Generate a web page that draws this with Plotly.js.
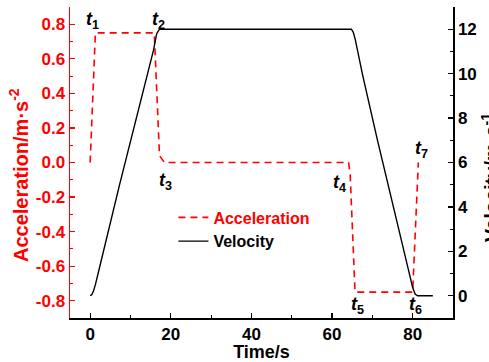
<!DOCTYPE html>
<html>
<head>
<meta charset="utf-8">
<script src="https://cdn.plot.ly/plotly-3.0.1.min.js"></script>
<style>html,body{margin:0;padding:0;background:#fff;}#chart{width:489px;height:362px;}</style>
</head>
<body>
<div id="chart"></div>
<script>
// Acceleration (m/s^2) vs time (s)
const accTime = [0, 1.3, 15.9, 17.2, 18.4, 64.1, 64.5, 65.5, 65.7, 80.0, 81.4];
const accValue = [0.0, 0.75, 0.75, 0.04, 0.0, 0.0, -0.07, -0.73, -0.75, -0.75, 0.0];
// Velocity (m/s) vs time (s)
const velTime = [0, 0.4, 0.8, 1.3, 2.3, 7.3, 15.7, 16.5, 17.2, 64.8, 65.3, 65.8, 67.6, 71.2, 80.0, 80.6, 81.2, 85.0];
const velValue = [0, 0.05, 0.2, 0.5, 1.25, 5.0, 11.05, 11.8, 12.0, 12.0, 11.85, 11.5, 9.92, 7.05, 0.37, 0.08, 0.0, 0.0];
// Phase markers
const markerNames = ['1', '2', '3', '4', '5', '6', '7'];
const markerX = [0.6, 16.9, 18.7, 61.8, 66.2, 80.6, 82.1];
const markerY = [0.82, 0.82, -0.108, -0.119, -0.827, -0.827, 0.077];

const FONT = 'Liberation Sans, Arial, sans-serif';
const RED = '#ff0000';

const traces = [
  {
    x: accTime, y: accValue, type: 'scatter', mode: 'lines',
    name: '<span style="color:#ff0000">Acceleration</span>',
    line: {color: RED, width: 1.6, dash: '7px,5px'},
    xaxis: 'x', yaxis: 'y'
  },
  {
    x: velTime, y: velValue, type: 'scatter', mode: 'lines',
    name: 'Velocity',
    line: {color: '#000', width: 1.4},
    xaxis: 'x', yaxis: 'y2'
  }
];

const annotations = markerNames.map((n, i) => ({
  x: markerX[i], y: markerY[i], xref: 'x', yref: 'y',
  text: '<b><i>t</i><sub>' + n + '</sub></b>',
  showarrow: false, xanchor: 'center', yanchor: 'middle',
  font: {family: FONT, size: 18, color: '#000'}
}));
// axis titles
annotations.push({
  xref: 'paper', yref: 'paper', x: -0.133, y: 0.46,
  xanchor: 'center', yanchor: 'middle', textangle: -90, showarrow: false,
  text: '<b>Acceleration/m·s<sup>-2</sup></b>',
  font: {family: FONT, size: 20, color: RED}
});
annotations.push({
  xref: 'paper', yref: 'paper', x: 1.097, y: 0.45,
  xanchor: 'center', yanchor: 'middle', textangle: -90, showarrow: false,
  text: '<b>Velocity/m·s<sup>-1</sup></b>',
  font: {family: FONT, size: 20, color: '#000'}
});

const layout = {
  width: 489, height: 362,
  margin: {l: 70, r: 36, t: 7, b: 44, pad: 0},
  paper_bgcolor: '#fff', plot_bgcolor: '#fff',
  showlegend: true,
  legend: {
    x: 0.27, y: 0.378, xanchor: 'left', yanchor: 'top',
    bgcolor: 'rgba(0,0,0,0)', itemwidth: 30, tracegroupgap: 0,
    font: {family: FONT, size: 16, color: '#000', weight: 'bold'}
  },
  xaxis: {
    range: [-5, 90], showgrid: false, zeroline: false,
    showline: true, linecolor: '#000', linewidth: 1.5,
    ticks: 'inside', ticklen: 5, tickwidth: 1.2, tickcolor: '#000',
    tickvals: [0, 20, 40, 60, 80], ticktext: ['0', '20', '40', '60', '80'],
    minor: {ticks: 'inside', ticklen: 3, tickwidth: 1.2, tickcolor: '#000', tickvals: [10, 30, 50, 70]},
    tickfont: {family: FONT, size: 17, color: '#000', weight: 'bold'},
    title: {text: 'Time/s', font: {family: FONT, size: 18, color: '#000', weight: 'bold'}, standoff: 2}
  },
  yaxis: {
    range: [-0.9, 0.9], showgrid: false, zeroline: false,
    showline: true, linecolor: RED, linewidth: 1.5,
    ticks: 'inside', ticklen: 5, tickwidth: 1.2, tickcolor: RED,
    tickvals: [-0.8, -0.6, -0.4, -0.2, 0.0, 0.2, 0.4, 0.6, 0.8],
    ticktext: ['-0.8', '-0.6', '-0.4', '-0.2', '0.0', '0.2', '0.4', '0.6', '0.8'],
    minor: {ticks: 'inside', ticklen: 3, tickwidth: 1.2, tickcolor: RED, dtick: 0.1},
    tickfont: {family: FONT, size: 17, color: RED, weight: 'bold'}
  },
  yaxis2: {
    overlaying: 'y', side: 'right', anchor: 'x',
    range: [-1, 13], showgrid: false, zeroline: false,
    showline: true, linecolor: '#000', linewidth: 1.5,
    ticks: 'inside', ticklen: 5, tickwidth: 1.2, tickcolor: '#000',
    tickvals: [0, 2, 4, 6, 8, 10, 12],
    minor: {ticks: 'inside', ticklen: 3, tickwidth: 1.2, tickcolor: '#000', dtick: 1},
    tickfont: {family: FONT, size: 17, color: '#000', weight: 'bold'}
  },
  annotations: annotations
};

Plotly.newPlot('chart', traces, layout, {displayModeBar: false, staticPlot: true});
</script>
</body>
</html>
